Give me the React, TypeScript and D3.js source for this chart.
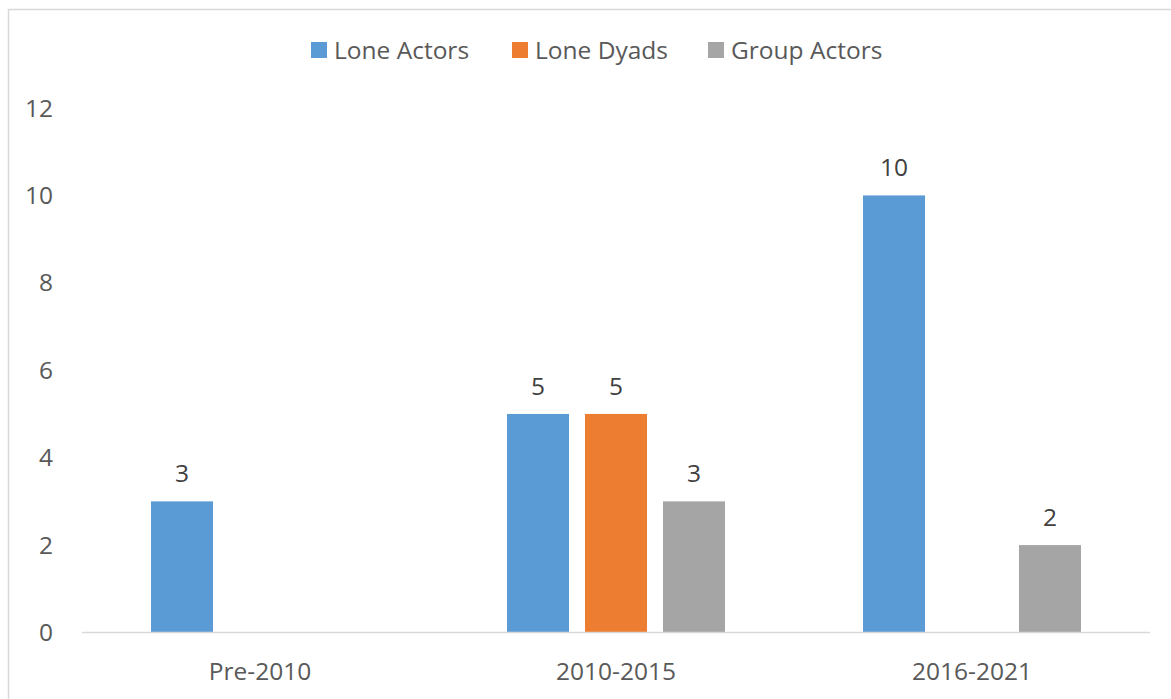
import React, { useRef, useEffect } from "react";
import * as d3 from "d3";

const categories = ["Pre-2010", "2010-2015", "2016-2021"];
const seriesNames = ["Lone Actors", "Lone Dyads", "Group Actors"];
const loneActors = [3, 5, 10];
const loneDyads = [null, 5, null];
const groupActors = [null, 3, 2];
const yTicks = [0, 2, 4, 6, 8, 10, 12];
const colors = ["#5B9BD5", "#ED7D31", "#A5A5A5"];

const W = 1171;
const H = 699;

const App = () => {
  const svgRef = useRef<SVGSVGElement>(null);

  useEffect(() => {
    document.body.style.margin = "0";
    document.body.style.overflow = "hidden";

    const svg = d3.select(svgRef.current);
    svg.selectAll("*").remove();

    const font = "'Open Sans', 'Liberation Sans', sans-serif";
    const textColor = "#595959";
    const fs = 24.5;

    // chart border
    svg.append("rect")
      .attr("x", 8.5).attr("y", 9.5)
      .attr("width", W).attr("height", H)
      .attr("fill", "#fff")
      .attr("stroke", "#D9D9D9")
      .attr("stroke-width", 1.5);

    const x0 = d3.scaleBand().domain(categories).range([82, 1150]);
    const x1 = d3.scaleBand()
      .domain(seriesNames)
      .range([0, x0.bandwidth()])
      .paddingInner(0.205)
      .paddingOuter(0.885);
    const y = d3.scaleLinear().domain([0, 12]).range([632.5, 108]);

    // y tick labels
    svg.append("g")
      .selectAll("text")
      .data(yTicks)
      .enter()
      .append("text")
      .attr("x", 53)
      .attr("y", (d) => y(d))
      .attr("dy", "0.35em")
      .attr("text-anchor", "end")
      .attr("font-family", font)
      .attr("font-size", fs)
      .attr("fill", textColor)
      .text((d) => d);

    const series = [loneActors, loneDyads, groupActors];
    const bars = [];
    series.forEach((vals, si) => {
      vals.forEach((v, ci) => {
        if (v == null) return;
        bars.push({ cat: categories[ci], name: seriesNames[si], value: v, color: colors[si] });
      });
    });

    const g = svg.append("g");
    g.selectAll("rect")
      .data(bars)
      .enter()
      .append("rect")
      .attr("x", (d) => x0(d.cat) + x1(d.name))
      .attr("y", (d) => y(d.value))
      .attr("width", x1.bandwidth())
      .attr("height", (d) => y(0) - y(d.value))
      .attr("fill", (d) => d.color);

    // value labels
    g.selectAll("text")
      .data(bars)
      .enter()
      .append("text")
      .attr("x", (d) => x0(d.cat) + x1(d.name) + x1.bandwidth() / 2)
      .attr("y", (d) => y(d.value) - 28)
      .attr("dy", "0.35em")
      .attr("text-anchor", "middle")
      .attr("font-family", font)
      .attr("font-size", fs)
      .attr("fill", "#404040")
      .text((d) => d.value);

    // baseline
    svg.append("line")
      .attr("x1", 82).attr("x2", 1150)
      .attr("y1", y(0)).attr("y2", y(0))
      .attr("stroke", "#D9D9D9")
      .attr("stroke-width", 1.5);

    // category labels
    svg.append("g")
      .selectAll("text")
      .data(categories)
      .enter()
      .append("text")
      .attr("x", (d) => x0(d) + x0.bandwidth() / 2)
      .attr("y", 671)
      .attr("dy", "0.35em")
      .attr("text-anchor", "middle")
      .attr("font-family", font)
      .attr("font-size", fs)
      .attr("fill", textColor)
      .text((d) => d);

    // legend
    const legendX = [311, 512, 708];
    const legend = svg.append("g");
    seriesNames.forEach((name, i) => {
      legend.append("rect")
        .attr("x", legendX[i]).attr("y", 42)
        .attr("width", 16).attr("height", 16)
        .attr("fill", colors[i]);
      legend.append("text")
        .attr("x", legendX[i] + 23)
        .attr("y", 50)
        .attr("dy", "0.35em")
        .attr("font-family", font)
        .attr("font-size", fs)
        .attr("fill", textColor)
        .text(name);
    });
  }, []);

  return <svg ref={svgRef} width={W} height={H} style={{ display: "block" }}></svg>;
};

export default App;
